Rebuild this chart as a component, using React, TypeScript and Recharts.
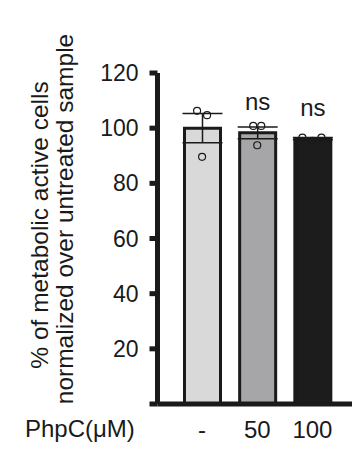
import React from 'react';
import {
  ComposedChart, Bar, Cell, ErrorBar, Scatter, XAxis, YAxis, LabelList,
} from 'recharts';

// values
const categories = ['-', '50', '100'];
const means = [100, 98.3, 96.2];
const sems = [5.3, 2.1, 0.4];
const rep1 = [106.3, 100.8, 96.6];
const rep2 = [104.7, 100.8, 96.6];
const rep3 = [89.6, 93.8, 95.4];
const sig = ['', 'ns', 'ns'];
const yTicks = [0, 20, 40, 60, 80, 100, 120];

// styling
const barColors = ['#d9d9d9', '#a6a6a8', '#1c1c1c'];
const jitterA = [-5, -4, -10];
const jitterB = [5, 4, 9];
const jitterC = [0, 0, 0];
const ink = '#1a1a1a';
const font = '"Liberation Sans", Arial, sans-serif';

const data = categories.map((name, i) => ({
  name,
  mean: means[i],
  sem: sems[i],
  r1: rep1[i],
  r2: rep2[i],
  r3: rep3[i],
  sig: sig[i],
}));

// open replicate dots, nudged sideways a little
const dot = (jitter: number[]) => (props: any) => {
  const i = categories.indexOf(props.payload?.name);
  const dx = i >= 0 ? jitter[i] : 0;
  return (
    <circle
      cx={props.cx + dx}
      cy={props.cy}
      r={3.5}
      fill="none"
      stroke={ink}
      strokeWidth={1.2}
    />
  );
};

const SigLabel = (props: any) => {
  const { x, y, width, value } = props;
  if (!value) return null;
  return (
    <text x={x + width / 2} y={y - 23} textAnchor="middle" fontSize={24} fontFamily={font} fill={ink}>
      {value}
    </text>
  );
};

const YLabel = () => (
  <g fontFamily={font} fontSize={24.5} fill={ink}>
    <text x={48} y={225} textAnchor="middle" transform="rotate(-90 48 225)">
      % of metabolic active cells
    </text>
    <text x={73} y={219} textAnchor="middle" transform="rotate(-90 73 219)">
      normalized over untreated sample
    </text>
  </g>
);

const XLabel = () => (
  <text x={25} y={437} fontFamily={font} fontSize={24} fill={ink}>
    PhpC(μM)
  </text>
);

export default function App() {
  return (
    <div style={{ position: 'absolute', left: 0, top: 0, background: '#fff' }}>
      <ComposedChart
        width={352}
        height={452}
        data={data}
        margin={{ top: 73, right: 0, bottom: 8, left: 0 }}
      >
        <XAxis
          dataKey="name"
          height={40}
          padding={{ left: 17, right: 12 }}
          axisLine={{ stroke: ink, strokeWidth: 5 }}
          tickLine={false}
          tickSize={8}
          tickMargin={9}
          tick={{ fontSize: 24, fontFamily: font, fill: ink }}
          label={{ content: <XLabel /> }}
        />
        <YAxis
          width={157.5}
          domain={[0, 120]}
          ticks={yTicks}
          interval={0}
          axisLine={{ stroke: ink, strokeWidth: 5 }}
          tickLine={{ stroke: ink, strokeWidth: 5 }}
          tickSize={8}
          tickMargin={11}
          tickFormatter={(v: number) => (v === 0 ? '' : String(v))}
          tick={{ fontSize: 23, fontFamily: font, fill: ink }}
          label={{ content: <YLabel /> }}
        />
        <Bar dataKey="mean" barSize={36} stroke={ink} strokeWidth={3} isAnimationActive={false}>
          {data.map((d, i) => (
            <Cell key={d.name} fill={barColors[i]} stroke={ink} />
          ))}
          <ErrorBar dataKey="sem" width={20} stroke={ink} strokeWidth={1.5} />
          <LabelList dataKey="sig" content={<SigLabel />} />
        </Bar>
        <Scatter dataKey="r1" shape={dot(jitterA)} isAnimationActive={false} />
        <Scatter dataKey="r2" shape={dot(jitterB)} isAnimationActive={false} />
        <Scatter dataKey="r3" shape={dot(jitterC)} isAnimationActive={false} />
      </ComposedChart>
    </div>
  );
}
